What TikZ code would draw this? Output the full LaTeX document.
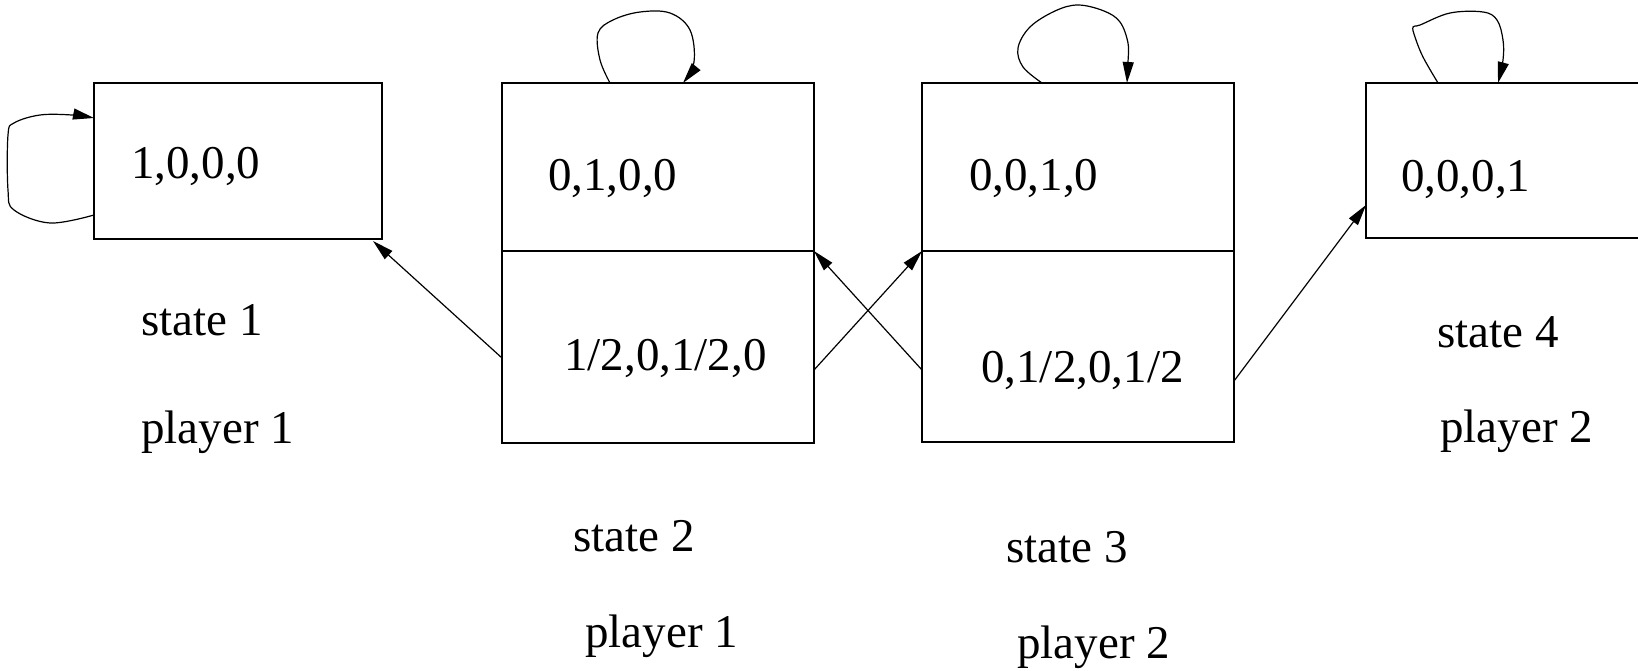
\documentclass[tikz,border=0pt]{standalone}
\usepackage{fontspec}
\setmainfont{Liberation Serif}
\usetikzlibrary{arrows.meta}
\begin{document}
\begin{tikzpicture}[x=1pt,y=-1pt,
  box/.style={draw, line width=1.2pt, rectangle, inner sep=0pt, outer sep=0pt},
  lbl/.style={inner sep=0pt, anchor=base west, font=\fontsize{47}{56}\selectfont},
  arr/.style={line width=1.2pt, -{Triangle[length=21pt,width=11pt]}},
  loopline/.style={line width=1.2pt, -{Triangle[length=21pt,width=11pt]}}]
\useasboundingbox (0,0) rectangle (1638,671);
\clip (0,0) rectangle (1638,671);

% state boxes
\node[box, minimum width=288pt, minimum height=156pt] (b1) at (238,161) {};
\node[box, minimum width=312pt, minimum height=168pt] (b2t) at (658,167) {};
\node[box, minimum width=312pt, minimum height=192pt] (b2b) at (658,347) {};
\node[box, minimum width=312pt, minimum height=168pt] (b3t) at (1078,167) {};
\node[box, minimum width=312pt, minimum height=191pt] (b3b) at (1078,346.5) {};
\node[box, minimum width=288pt, minimum height=155pt] (b4) at (1510,160.5) {};

% distributions
\node[lbl] (d1) at (131,179) {1,0,0,0};
\node[lbl] (d2t) at (548,191) {0,1,0,0};
\node[lbl] (d2b) at (564,370) {1/2,0,1/2,0};
\node[lbl] (d3t) at (969,191) {0,0,1,0};
\node[lbl] (d3b) at (981,382) {0,1/2,0,1/2};
\node[lbl] (d4) at (1401,192) {0,0,0,1};

% state and player captions
\node[lbl] (s1) at (141,335) {state 1};
\node[lbl] (p1) at (141,443) {player 1};
\node[lbl] (s2) at (573,551) {state 2};
\node[lbl] (p2) at (585,647) {player 1};
\node[lbl] (s3) at (1006,562) {state 3};
\node[lbl] (p3) at (1017,658) {player 2};
\node[lbl] (s4) at (1437,347) {state 4};
\node[lbl] (p4) at (1440,442) {player 2};

% transitions between states
\draw[arr] ([yshift=-11pt]b2b.west) -- ([xshift=-9pt,yshift=-2pt]b1.south east);
\draw[arr] ([yshift=-23pt]b2b.east) -- (b3b.north west);
\draw[arr] ([yshift=-23.5pt]b3b.west) -- (b2b.north east);
\draw[arr] ([yshift=-34.5pt]b3b.east) -- ([yshift=-44.5pt]b4.west);

% self loops
\coordinate (l1s) at ([yshift=-54pt]b1.west);
\coordinate (l1e) at ([yshift=43pt]b1.west);
\draw[loopline] plot[smooth, tension=0.6] coordinates
  {(l1s) (50,223) (14,210) (8,190) (8,135) (14,123) (40,115) (72,115) (l1e)};

\coordinate (l2s) at ([xshift=-48pt]b2t.north);
\coordinate (l2e) at ([xshift=25pt]b2t.north);
\draw[loopline] plot[smooth, tension=0.6] coordinates
  {(l2s) (600,60) (598,33) (613,20) (640,12) (670,13) (690,30) (694,62) (l2e)};

\coordinate (l3s) at ([xshift=-36pt]b3t.north);
\coordinate (l3e) at ([xshift=49pt]b3t.north);
\draw[loopline] plot[smooth, tension=0.6] coordinates
  {(l3s) (1023,67) (1018,48) (1030,27) (1055,11) (1078,5) (1104,11) (1120,22) (1128,43) (1128,62) (l3e)};

\coordinate (l4s) at ([xshift=-72pt]b4.north);
\coordinate (l4e) at ([xshift=-12pt]b4.north);
\draw[loopline] plot[smooth, tension=0.6] coordinates
  {(l4s) (1423,57) (1415,37) (1413,27) (1420,25) (1450,13) (1483,12) (1497,20) (1503,40) (1503,60) (l4e)};
\end{tikzpicture}
\end{document}
